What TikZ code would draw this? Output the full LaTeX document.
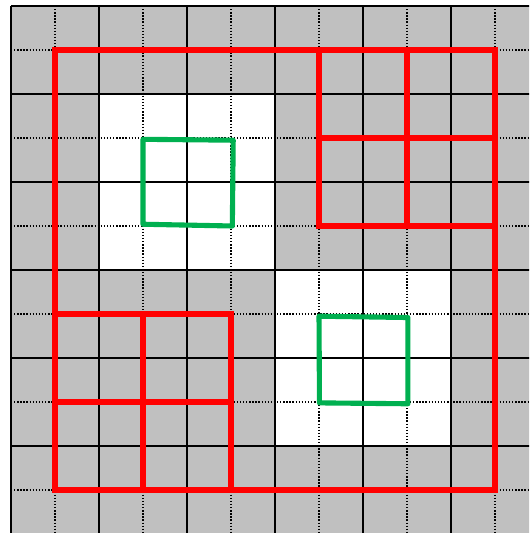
\documentclass[tikz,border=0pt]{standalone}
\usepackage{tikz}
\definecolor{cellgray}{RGB}{192,192,192}
\definecolor{winred}{RGB}{255,0,0}
\definecolor{patchgreen}{RGB}{0,176,80}

\begin{document}
\begin{tikzpicture}[y=-1cm,
    major/.style={draw=black, line width=1.1pt},
    minor/.style={draw=black, line width=0.95pt, dash pattern=on 0.9pt off 1.1pt},
    window/.style={draw=winred, line width=3.9pt, line join=miter},
    patch/.style={draw=patchgreen, line width=3.3pt, line join=round},
]
\useasboundingbox (-0.25,-0.136) rectangle (11.773,11.977);
\clip (-0.25,-0.136) rectangle (11.773,11.977);
% background cells
\fill[cellgray] (0,0) rectangle (12.5,12.5);
\fill[white] (2,2) rectangle (6,6);
\fill[white] (6,6) rectangle (10,10);
% grid lines
\foreach \k in {1,3,...,11} {
  \draw[minor] (\k,0) -- (\k,12.5);
  \draw[minor] (0,\k) -- (12.5,\k);
}
\foreach \k in {0,2,...,12} {
  \draw[major] (\k,0) -- (\k,12.5);
  \draw[major] (0,\k) -- (12.5,\k);
}
% red windows
\draw[window] (1,1) rectangle (11,11);
\draw[window] (7,1) rectangle (11,5) (9,1) -- (9,5) (7,3) -- (11,3);
\draw[window] (1,7) rectangle (5,11) (3,7) -- (3,11) (1,9) -- (5,9);
% green patches
\draw[patch] (3,3.03) -- (5.05,3.05) -- (5.03,5) -- (3,4.96) -- cycle;
\draw[patch] (7,7.05) -- (9.02,7.08) -- (9.02,9.04) -- (7.01,9.02) -- cycle;
\end{tikzpicture}
\end{document}
